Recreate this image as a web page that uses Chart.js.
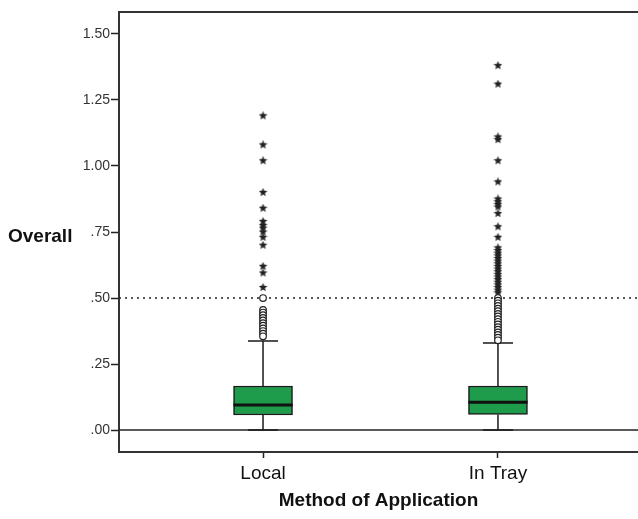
<!DOCTYPE html>
<html>
<head>
<meta charset="utf-8">
<script src="https://cdn.jsdelivr.net/npm/chart.js@4.4.0/dist/chart.umd.min.js"></script>
<style>
  body { margin: 0; background: #fff; }
  canvas { display: block; }
</style>
</head>
<body>
<canvas id="boxChart" width="638" height="519"></canvas>
<script>
// categories and their positions on the x axis
const categories = ['Local', 'In Tray'];
const catPos = [1, 2];

// box statistics
const lowerWhisker = [0.0, 0.0];
const q1 = [0.057, 0.059];
const median = [0.095, 0.105];
const q3 = [0.167, 0.167];
const upperWhisker = [0.337, 0.33];

// outliers (circles) and extremes (stars)
const localCircles = [0.50, 0.455, 0.445, 0.435, 0.425, 0.415, 0.405, 0.395, 0.385, 0.375, 0.365, 0.355];
const localStars = [1.19, 1.08, 1.02, 0.90, 0.84, 0.79, 0.775, 0.765, 0.75, 0.73, 0.70, 0.62, 0.595, 0.54];
const trayCircles = [0.50, 0.49, 0.48, 0.47, 0.46, 0.45, 0.44, 0.43, 0.42, 0.41, 0.40, 0.39, 0.38, 0.37, 0.36, 0.35, 0.34];
const trayStars = [1.38, 1.31, 1.11, 1.10, 1.02, 0.94, 0.875, 0.865, 0.855, 0.845, 0.82, 0.77, 0.73,
  0.69, 0.68, 0.67, 0.66, 0.65, 0.64, 0.63, 0.62, 0.61, 0.60, 0.59, 0.58, 0.57, 0.56, 0.55, 0.54, 0.53, 0.52];

const yTicks = [0, 0.25, 0.5, 0.75, 1.0, 1.25, 1.5];
const refLine = 0.5;

const FONT = 'Arial, "Liberation Sans", sans-serif';
const BOX_HALF = 0.126;
const CAP_HALF = 0.064;

// filled star used for extreme values
function makeStar(size) {
    const c = document.createElement('canvas');
    c.width = size; c.height = size;
    const g = c.getContext('2d');
    const r = size / 2, ri = r * 0.45;
    g.beginPath();
    for (let i = 0; i < 10; i++) {
        const a = -Math.PI / 2 + i * Math.PI / 5;
        const rad = i % 2 === 0 ? r : ri;
        g.lineTo(r + rad * Math.cos(a), r + rad * Math.sin(a));
    }
    g.closePath();
    g.fillStyle = '#222';
    g.fill();
    return c;
}
const starImg = makeStar(9);

// whisker segments (vertical + caps), null separates segments
const whiskerData = [];
const medianData = [];
catPos.forEach((x, i) => {
    whiskerData.push({ x: x, y: q3[i] }, { x: x, y: upperWhisker[i] }, { x: null, y: null });
    whiskerData.push({ x: x - CAP_HALF, y: upperWhisker[i] }, { x: x + CAP_HALF, y: upperWhisker[i] }, { x: null, y: null });
    whiskerData.push({ x: x, y: q1[i] }, { x: x, y: lowerWhisker[i] }, { x: null, y: null });
    whiskerData.push({ x: x - CAP_HALF, y: lowerWhisker[i] }, { x: x + CAP_HALF, y: lowerWhisker[i] }, { x: null, y: null });
    medianData.push({ x: x - BOX_HALF, y: median[i] }, { x: x + BOX_HALF, y: median[i] }, { x: null, y: null });
});

const circleData = localCircles.map(v => ({ x: catPos[0], y: v }))
    .concat(trayCircles.map(v => ({ x: catPos[1], y: v })));
const starData = localStars.map(v => ({ x: catPos[0], y: v }))
    .concat(trayStars.map(v => ({ x: catPos[1], y: v })));

const framePlugin = {
    id: 'frame',
    beforeDatasetsDraw(chart) {
        const { ctx, chartArea, scales } = chart;
        ctx.save();
        // dotted reference line
        const yRef = scales.y.getPixelForValue(refLine);
        ctx.strokeStyle = '#222';
        ctx.lineWidth = 1.5;
        ctx.setLineDash([2, 4]);
        ctx.beginPath();
        ctx.moveTo(chartArea.left, yRef);
        ctx.lineTo(chartArea.right, yRef);
        ctx.stroke();
        // zero line
        ctx.setLineDash([]);
        const y0 = scales.y.getPixelForValue(0);
        ctx.lineWidth = 1.5;
        ctx.beginPath();
        ctx.moveTo(chartArea.left, y0);
        ctx.lineTo(chartArea.right, y0);
        ctx.stroke();
        // top border
        ctx.lineWidth = 2;
        ctx.strokeStyle = '#333';
        ctx.beginPath();
        ctx.moveTo(chartArea.left - 1, chartArea.top);
        ctx.lineTo(chartArea.right, chartArea.top);
        ctx.stroke();
        ctx.restore();
    },
    afterDraw(chart) {
        const { ctx, scales } = chart;
        ctx.save();
        ctx.font = 'bold 19px ' + FONT;
        ctx.fillStyle = '#111';
        ctx.textAlign = 'left';
        ctx.textBaseline = 'middle';
        ctx.fillText('Overall', 8, scales.y.getPixelForValue(0.75) + 5);
        ctx.restore();
    }
};

const ctx = document.getElementById('boxChart').getContext('2d');
new Chart(ctx, {
    type: 'scatter',
    data: {
        datasets: [
            {
                type: 'bar',
                data: catPos.map((x, i) => ({ x: x, y: [q1[i], q3[i]] })),
                backgroundColor: '#1f9b4c',
                borderColor: '#1a1a1a',
                borderWidth: 1.5,
                borderSkipped: false,
                barThickness: 59,
                order: 2
            },
            {
                type: 'line',
                data: whiskerData,
                borderColor: '#1a1a1a',
                borderWidth: 1.5,
                pointRadius: 0,
                spanGaps: false,
                order: 3
            },
            {
                type: 'line',
                data: medianData,
                borderColor: '#111',
                borderWidth: 3,
                pointRadius: 0,
                spanGaps: false,
                order: 1
            },
            {
                type: 'scatter',
                data: circleData,
                pointStyle: 'circle',
                pointRadius: 3.3,
                backgroundColor: '#fff',
                borderColor: '#222',
                borderWidth: 1.2,
                order: 0
            },
            {
                type: 'scatter',
                data: starData,
                pointStyle: starImg,
                order: 0
            }
        ]
    },
    options: {
        responsive: false,
        animation: false,
        devicePixelRatio: 1,
        layout: { autoPadding: false, padding: { top: 12, right: 0, bottom: 0, left: 0 } },
        plugins: {
            legend: { display: false },
            tooltip: { enabled: false }
        },
        scales: {
            x: {
                type: 'linear',
                offset: false,
                min: 0.387,
                max: 2.596,
                afterFit: (scale) => {
                    scale.height = 67;
                    scale.paddingLeft = 0;
                    scale.paddingRight = 0;
                },
                afterBuildTicks: (scale) => { scale.ticks = catPos.map(v => ({ value: v })); },
                grid: { offset: false, drawOnChartArea: false, drawTicks: true, tickLength: 6, color: '#222', tickWidth: 1.5 },
                border: { display: true, color: '#333', width: 2 },
                ticks: {
                    color: '#111',
                    font: { family: FONT, size: 19 },
                    padding: 4,
                    maxRotation: 0,
                    autoSkip: false,
                    callback: (v) => categories[catPos.indexOf(v)] || ''
                },
                title: {
                    display: true,
                    text: 'Method of Application',
                    color: '#111',
                    font: { family: FONT, size: 19, weight: 'bold' },
                    padding: { top: 0, bottom: 7 }
                }
            },
            y: {
                min: -0.083,
                max: 1.583,
                afterFit: (scale) => {
                    scale.width = 119;
                    scale.paddingTop = 0;
                    scale.paddingBottom = 0;
                },
                afterBuildTicks: (scale) => { scale.ticks = yTicks.map(v => ({ value: v })); },
                grid: { drawOnChartArea: false, drawTicks: true, tickLength: 8, color: '#222', tickWidth: 1.5 },
                border: { display: true, color: '#333', width: 2 },
                ticks: {
                    color: '#333',
                    font: { family: FONT, size: 14 },
                    padding: 1,
                    callback: (v) => v < 1 ? v.toFixed(2).replace(/^0/, '') : v.toFixed(2)
                }
            }
        }
    },
    plugins: [framePlugin]
});
</script>
</body>
</html>
